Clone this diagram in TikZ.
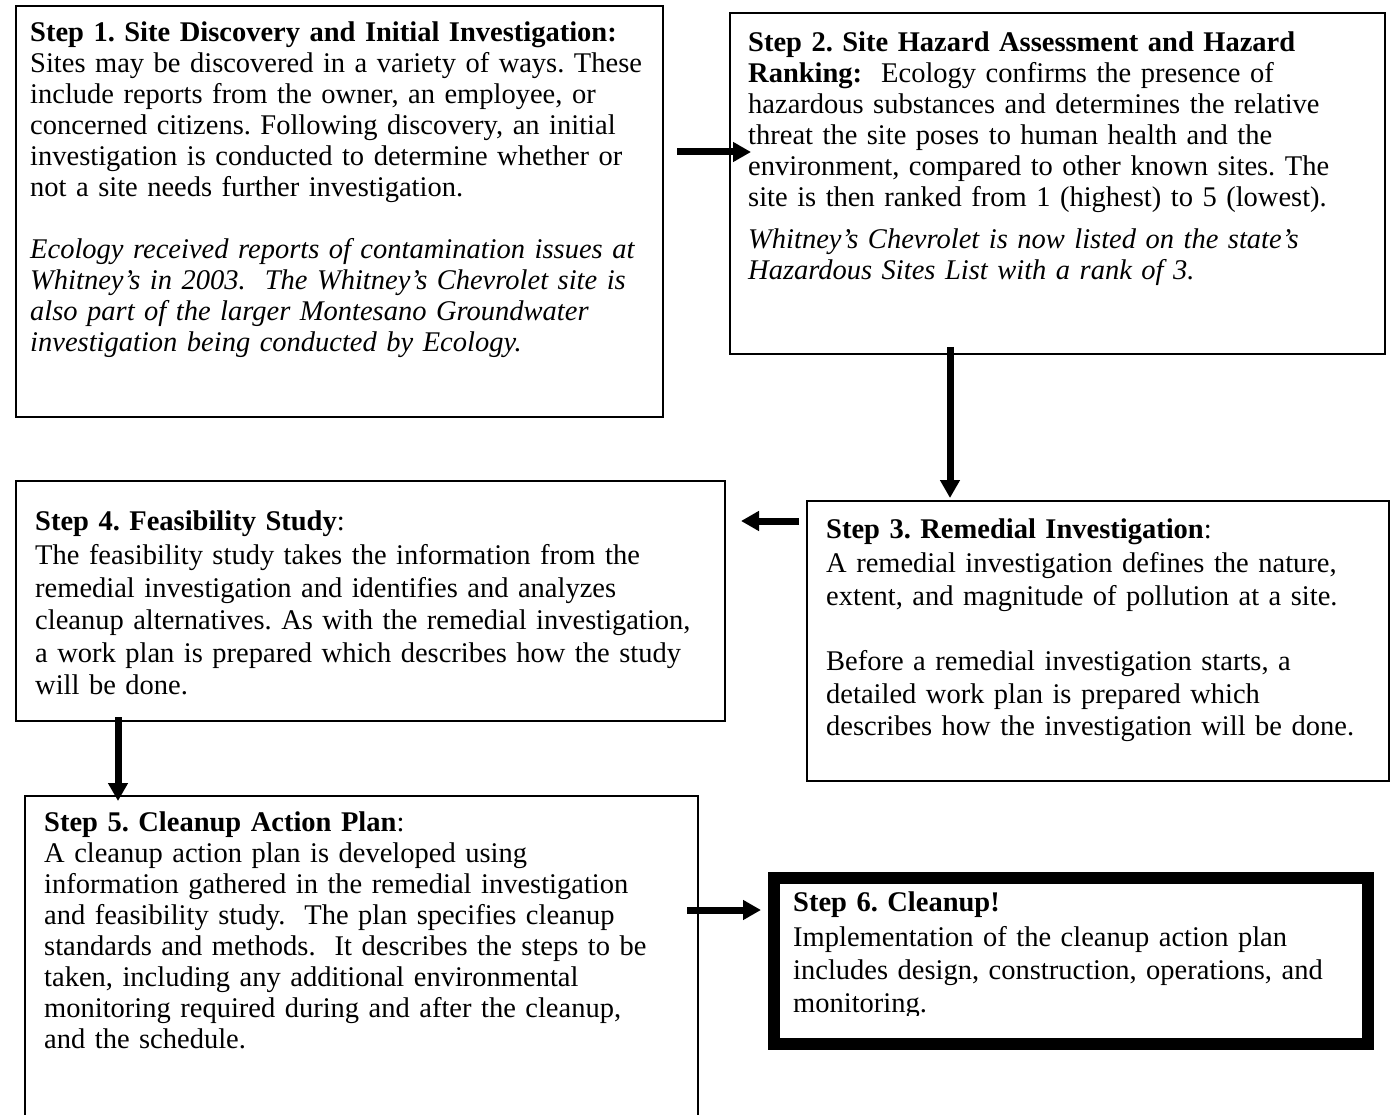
\documentclass[tikz,border=0pt]{standalone}
\usepackage{fontspec}
\setmainfont{Liberation Serif}
\usetikzlibrary{arrows.meta, positioning}
\frenchspacing

\tikzset{
  stepbox/.style={draw, line width=2pt, anchor=north west, inner sep=0pt},
  steptext/.style={anchor=base west, inner sep=0pt, text width=680pt, align=left,
    font=\fontsize{28.5}{#1}\selectfont},
  steptext/.default=31pt,
  flow/.style={-{Triangle[length=18pt, width=19pt]}, line width=7pt},
}

\begin{document}
\begin{tikzpicture}[x=1pt, y=-1pt]
    \useasboundingbox (0,0) rectangle (1393,1115);

    % the six step boxes
    \node[stepbox, minimum width=647pt, minimum height=411pt] (s1) at (15,5) {};
    \node[stepbox, minimum width=655pt, minimum height=341pt] (s2) at (729,12) {};
    \node[stepbox, minimum width=582pt, minimum height=280pt] (s3) at (806,500) {};
    \node[stepbox, minimum width=709pt, minimum height=240pt] (s4) at (15,480) {};
    \node[stepbox, minimum width=673pt, minimum height=340pt] (s5) at (24,795) {};

    \node[steptext] (s1t) at (30,42) {%
        \textbf{Step 1. Site Discovery and Initial Investigation:}\\
        Sites may be discovered in a variety of ways. These\\
        include reports from the owner, an employee, or\\
        concerned citizens. Following discovery, an initial\\
        investigation is conducted to determine whether or\\
        not a site needs further investigation.\\[31pt]
        \itshape Ecology received reports of contamination issues at\\
        Whitney's in 2003.\ \ The Whitney's Chevrolet site is\\
        also part of the larger Montesano Groundwater\\
        investigation being conducted by Ecology.};

    \node[steptext] (s2t) at (748,52) {%
        \textbf{Step 2. Site Hazard Assessment and Hazard}\\
        \textbf{Ranking:}\ \ Ecology confirms the presence of\\
        hazardous substances and determines the relative\\
        threat the site poses to human health and the\\
        environment, compared to other known sites. The\\
        site is then ranked from 1 (highest) to 5 (lowest).\\[11pt]
        \itshape Whitney's Chevrolet is now listed on the state's\\
        Hazardous Sites List with a rank of 3.};

    \node[steptext=32.5pt] (s3t) at (826,538) {%
        \textbf{Step 3. Remedial Investigation}:\\[2pt]
        A remedial investigation defines the nature,\\
        extent, and magnitude of pollution at a site.\\[33pt]
        Before a remedial investigation starts, a\\
        detailed work plan is prepared which\\
        describes how the investigation will be done.};

    \node[steptext=32.5pt] (s4t) at (35,530) {%
        \textbf{Step 4. Feasibility Study}:\\[2pt]
        The feasibility study takes the information from the\\
        remedial investigation and identifies and analyzes\\
        cleanup alternatives. As with the remedial investigation,\\
        a work plan is prepared which describes how the study\\
        will be done.};

    \node[steptext] (s5t) at (44,831) {%
        \textbf{Step 5. Cleanup Action Plan}:\\
        A cleanup action plan is developed using\\
        information gathered in the remedial investigation\\
        and feasibility study.\ \ The plan specifies cleanup\\
        standards and methods.\ \ It describes the steps to be\\
        taken, including any additional environmental\\
        monitoring required during and after the cleanup,\\
        and the schedule.};

    % step 6, text cut off by its frame
    \begin{scope}
        \clip (773,873) rectangle (1362,1015);
        \node[steptext=33pt] (s6t) at (793,911) {%
            \textbf{Step 6. Cleanup!}\\[2pt]
            Implementation of the cleanup action plan\\
            includes design, construction, operations, and\\
            monitoring.};
    \end{scope}
    \node[stepbox, line width=12pt, minimum width=594pt, minimum height=166pt] (s6) at (768,872) {};

    % arrows between the steps
    \coordinate (t12) at (677,152);
    \coordinate (h12) at (751,152);
    \coordinate (t23) at (950,347);
    \coordinate (h23) at (950,498);
    \coordinate (t34) at (799,521);
    \coordinate (h34) at (741,521);
    \coordinate (t45) at (118,717);
    \coordinate (h45) at (118,801);
    \coordinate (t56) at (687,910);
    \coordinate (h56) at (761,910);

    \draw[flow] (t12) -- (h12);
    \draw[flow] (t23) -- (h23);
    \draw[flow] (t34) -- (h34);
    \draw[flow] (t45) -- (h45);
    \draw[flow] (t56) -- (h56);
\end{tikzpicture}
\end{document}
